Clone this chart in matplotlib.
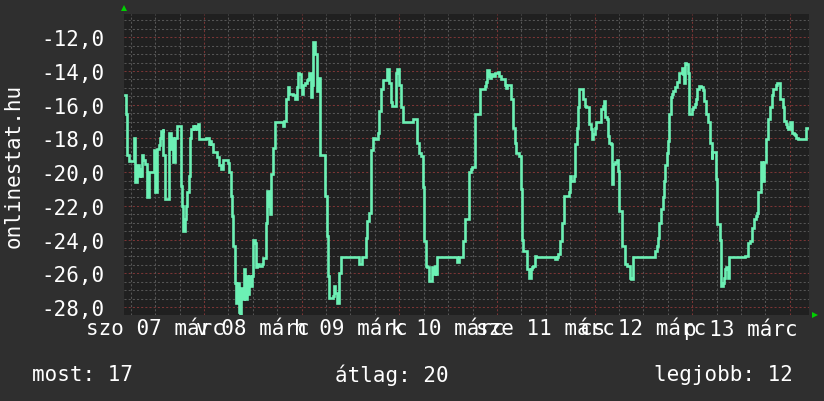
import matplotlib
matplotlib.use("Agg")
import matplotlib.pyplot as plt
from matplotlib.ticker import FixedLocator, MultipleLocator

# ---- data (hours since 07 March 00:00, temperature) ----
hours = [
    4.67, 4.83, 5.16, 5.49, 6.80, 7.13, 7.62, 7.95, 8.27, 8.44, 8.76, 9.09, 9.42,
    10.07, 10.57, 11.71, 12.04, 12.53, 12.86, 13.19, 13.51, 13.84, 14.01, 14.33,
    15.32, 15.97, 16.14, 16.30, 16.79, 17.45, 18.26, 18.59, 18.92, 19.25, 19.57,
    19.90, 20.23, 20.56, 20.89, 21.21, 21.54, 21.87, 22.20, 22.52, 22.85, 24.49,
    24.82, 25.14, 25.47, 25.80, 26.13, 27.11, 27.60, 28.09, 28.75, 29.89, 30.22,
    30.55, 30.88, 31.20, 31.53, 31.86, 32.19, 32.68,
    32.51, 32.84, 33.17, 33.50, 33.82, 34.15, 34.48, 34.81, 35.13, 35.46, 35.79,
    36.12, 36.45, 36.77, 37.10, 37.43, 38.25, 38.57, 39.23, 39.56, 39.88, 40.21,
    40.54, 40.87, 41.52, 43.32, 43.65, 44.14, 44.64, 44.96, 45.95, 46.44, 46.76,
    47.09, 47.42, 47.75, 48.07, 48.40, 48.73, 49.22, 49.55, 49.88, 50.20, 50.53,
    50.86, 51.19, 51.84, 52.17, 52.50, 53.81, 54.14, 54.46, 54.79, 55.61, 55.94,
    56.26, 56.59, 57.25, 57.74,
    62.17, 62.83, 63.81, 64.14, 64.63, 65.12, 65.61, 65.94, 66.76, 67.08, 67.41,
    68.07, 69.05, 69.54, 69.87, 70.20, 71.18, 71.51, 71.83, 72.33, 72.82, 75.27,
    76.26, 76.75, 77.24, 77.73, 78.06, 78.55, 78.88, 79.21, 80.02, 80.35, 80.68,
    81.01, 81.17, 86.25, 86.74, 87.72, 88.21, 89.03, 89.52,
    89.85, 90.67, 91.82, 92.96, 93.29, 93.62, 93.95, 94.27, 94.60, 95.09, 95.42,
    96.24, 96.57, 96.89, 97.88, 98.21, 98.53, 99.35, 100.00, 100.33, 100.66,
    101.48, 101.81, 102.14, 102.46, 103.28, 103.94, 104.27, 104.59, 104.92,
    105.25, 105.58, 110.33, 110.65, 110.98, 111.47, 111.96, 112.46, 113.60,
    113.93, 114.26, 114.91, 115.24, 115.57, 115.90, 116.22, 117.04, 117.53,
    117.86,
    118.68, 119.01, 119.33, 119.66, 119.99, 120.32, 121.63, 121.96, 122.28,
    122.61, 122.94, 123.27, 123.59, 123.92, 124.25, 124.41, 125.07, 125.39,
    125.72, 126.05, 126.71, 127.36, 128.02, 128.67, 129.00, 129.33, 134.89,
    135.22, 135.55, 135.88, 136.21, 136.70, 137.02, 137.35, 137.68, 138.01,
    138.34, 138.66, 138.99, 139.32, 139.65, 140.30, 140.63, 141.45, 141.77,
    141.94, 142.27, 142.59, 142.92, 143.25, 143.90, 144.23, 144.56, 144.89,
    145.21, 145.71, 146.20, 146.53, 146.85,
    147.34, 147.84, 148.33, 148.82, 148.98, 149.80, 150.13, 150.78, 151.11,
    151.44, 151.77, 152.09, 152.42, 152.75, 153.08, 157.01, 157.66, 158.32,
    158.65, 159.30, 159.63, 159.96, 160.28, 160.78, 161.10, 161.76, 162.09,
    162.58, 163.23, 163.56, 163.89, 164.54, 164.87, 165.69, 166.35, 166.67,
    167.00, 167.33, 167.66, 168.15, 168.47, 168.64, 168.97, 169.29, 169.62,
    169.95, 171.91, 172.40,
]
temps = [
    -15.45, -16.55, -19.0, -19.35, -17.95, -20.6, -19.6, -20.2, -19.8, -20.2, -19.0, -19.3, -19.5,
    -21.5, -20.0, -18.7, -21.15, -18.6, -18.4, -17.95, -17.55, -17.45, -19.0, -21.6,
    -17.65, -18.6, -18.0, -19.4, -18.0, -17.25, -20.8, -22.0, -23.5, -22.8, -22.0,
    -21.2, -20.2, -18.0, -17.45, -17.25, -17.45, -17.25, -17.45, -17.15, -18.05, -18.0,
    -17.95, -18.35, -18.15, -18.35, -18.8, -19.1, -19.6, -19.8, -19.3, -19.45, -20.0,
    -21.4, -22.6, -24.4, -26.55, -27.75, -26.55, -28.3,
    -26.55, -28.4, -26.85, -27.55, -25.75, -27.55, -26.15, -27.25, -26.15, -26.75, -26.15,
    -24.0, -24.2, -25.65, -25.45, -25.55, -25.45, -25.1, -23.0, -21.1, -22.0, -22.5,
    -20.1, -18.55, -17.05, -17.25, -16.95, -15.65, -14.95, -15.35, -15.45, -15.65, -14.95,
    -14.1, -14.2, -14.95, -15.35, -14.8, -14.7, -14.55, -14.5, -14.1, -15.55, -14.8,
    -12.3, -13.0, -15.2, -14.4, -19.0, -21.4, -23.8, -26.15, -27.45, -27.35, -26.75,
    -27.15, -27.75, -25.95, -25.05,
    -25.45, -25.05, -23.9, -22.9, -22.4, -18.7, -17.95, -18.05, -17.65, -16.35, -15.05,
    -14.55, -13.9, -14.7, -15.85, -16.05, -14.1, -13.9, -14.8, -16.15, -17.0, -16.85,
    -18.25, -18.85, -19.05, -20.9, -24.1, -25.55, -25.65, -26.45, -25.65, -26.05, -25.55,
    -26.05, -25.05, -25.35, -25.05, -24.1, -22.75, -20.0, -19.8,
    -19.7, -16.55, -15.05, -14.9, -14.65, -13.95, -14.3, -14.4, -14.2, -14.3, -14.1,
    -14.05, -14.3, -14.5, -14.8, -15.0, -14.85, -15.65, -17.35, -18.25, -18.85,
    -19.05, -21.0, -24.0, -24.7, -25.75, -26.25, -25.75, -25.65, -25.55,
    -24.95, -25.05, -25.15, -25.05, -24.85, -24.1, -23.0, -21.4, -21.2,
    -20.2, -20.5, -20.2, -18.35, -17.35, -16.15, -15.05, -15.65, -16.05,
    -16.15,
    -17.15, -17.45, -18.05, -17.75, -17.35, -17.05, -16.25, -16.05, -15.8,
    -16.75, -16.85, -17.85, -18.25, -18.35, -20.7, -19.5, -19.4, -19.3,
    -19.9, -22.3, -24.4, -25.45, -25.55, -26.25, -26.35, -25.05, -24.65,
    -24.4, -23.9, -23.0, -22.2, -21.5, -20.5, -19.6, -18.85, -18.15,
    -16.55, -15.55, -15.35, -15.2, -14.95, -14.65, -14.1, -13.8, -14.2,
    -14.7, -13.5, -13.6, -14.1, -16.55, -16.25, -16.15, -15.95, -15.65,
    -15.05, -14.9, -14.95, -15.15, -15.75,
    -16.55, -17.05, -18.25, -19.2, -18.8, -20.4, -23.1, -24.0, -26.75,
    -26.55, -26.25, -25.75, -25.65, -26.25, -25.05, -24.95, -24.2, -24.1,
    -23.3, -22.8, -22.6, -22.4, -21.2, -19.4, -20.5, -19.4, -18.05,
    -16.85, -16.15, -15.45, -15.05, -14.8, -14.7, -15.65, -16.15, -16.95,
    -17.15, -17.3, -17.45, -17.05, -17.1, -17.65, -17.75, -17.8, -17.95,
    -18.05, -17.35, -17.35,
]

day_label_hours = [12, 36, 60, 84, 108, 132, 156]
day_labels = ["szo 07 márc", "v 08 márc", "h 09 márc", "k 10 márc",
              "sze 11 márc", "cs 12 márc", "p 13 márc"]
y_ticks = [-12, -14, -16, -18, -20, -22, -24, -26, -28]
y_tick_labels = ["-12,0", "-14,0", "-16,0", "-18,0", "-20,0", "-22,0",
                 "-24,0", "-26,0", "-28,0"]
footer = ["most: 17", "átlag: 20", "legjobb: 12"]
y_title = "onlinestat.hu"

# sort by time (keep order of reading)
pairs = sorted(zip(hours, temps), key=lambda p: p[0])
hs = [p[0] for p in pairs]
ts = [p[1] for p in pairs]

BG = "#2f2f2f"
PLOT_BG = "#202020"
FONT = "DejaVu Sans Mono"
FS = 15

fig = plt.figure(figsize=(8.24, 4.02), dpi=100, facecolor=BG)
W, H = 824, 402
L, R, T, B = 124, 809, 14.7, 316
ax = fig.add_axes([L / W, (H - B) / H, (R - L) / W, (B - T) / H])
ax.set_facecolor(PLOT_BG)
ax.set_xlim(4.34, 172.7)
ax.set_ylim(-28.47, -10.6)
for s in ax.spines.values():
    s.set_visible(False)

# grid
minor_col = "#555555"
major_col = "#7a3535"
dash = (0, (2, 2))
yv = -28.0
while yv <= -10.6:
    is_major = abs(yv / 2 - round(yv / 2)) < 1e-6
    ax.axhline(yv, color=major_col if is_major else minor_col, lw=0.75,
               linestyle=dash, zorder=1)
    yv += 0.5
hv = 6
while hv < 172.7:
    if hv > 4.34:
        ax.axvline(hv, color=major_col if hv % 24 == 0 else minor_col,
                   lw=0.75, linestyle=dash, zorder=1)
    hv += 6

ax.step(hs, ts, where="post", color="#6cf0b4", lw=1.9, zorder=3,
        solid_joinstyle="miter")

ax.set_xticks(day_label_hours)
ax.set_xticklabels(day_labels, fontfamily=FONT, fontsize=FS, color="white")
ax.set_yticks(y_ticks)
ax.set_yticklabels(y_tick_labels, fontfamily=FONT, fontsize=FS, color="white")
ax.tick_params(axis="both", length=0)
ax.tick_params(axis="x", pad=2)
ax.tick_params(axis="y", pad=14)

# axis arrows
ax.plot([0], [1.018], marker="^", color="#00d000", ms=5, mew=0,
        transform=ax.transAxes, clip_on=False)
ax.plot([1.009], [0.0], marker=">", color="#00d000", ms=5, mew=0,
        transform=ax.transAxes, clip_on=False)

fig.text(14 / W, 1 - 166 / H, y_title, rotation=90, ha="center", va="center",
         fontfamily=FONT, fontsize=FS, color="white")
fig.text(32 / W, 1 - 375 / H, footer[0], ha="left", va="center",
         fontfamily=FONT, fontsize=FS, color="white")
fig.text(392 / W, 1 - 375 / H, footer[1], ha="center", va="center",
         fontfamily=FONT, fontsize=FS, color="white")
fig.text(793 / W, 1 - 375 / H, footer[2], ha="right", va="center",
         fontfamily=FONT, fontsize=FS, color="white")

fig.savefig("out.png", dpi=100, facecolor=BG)
